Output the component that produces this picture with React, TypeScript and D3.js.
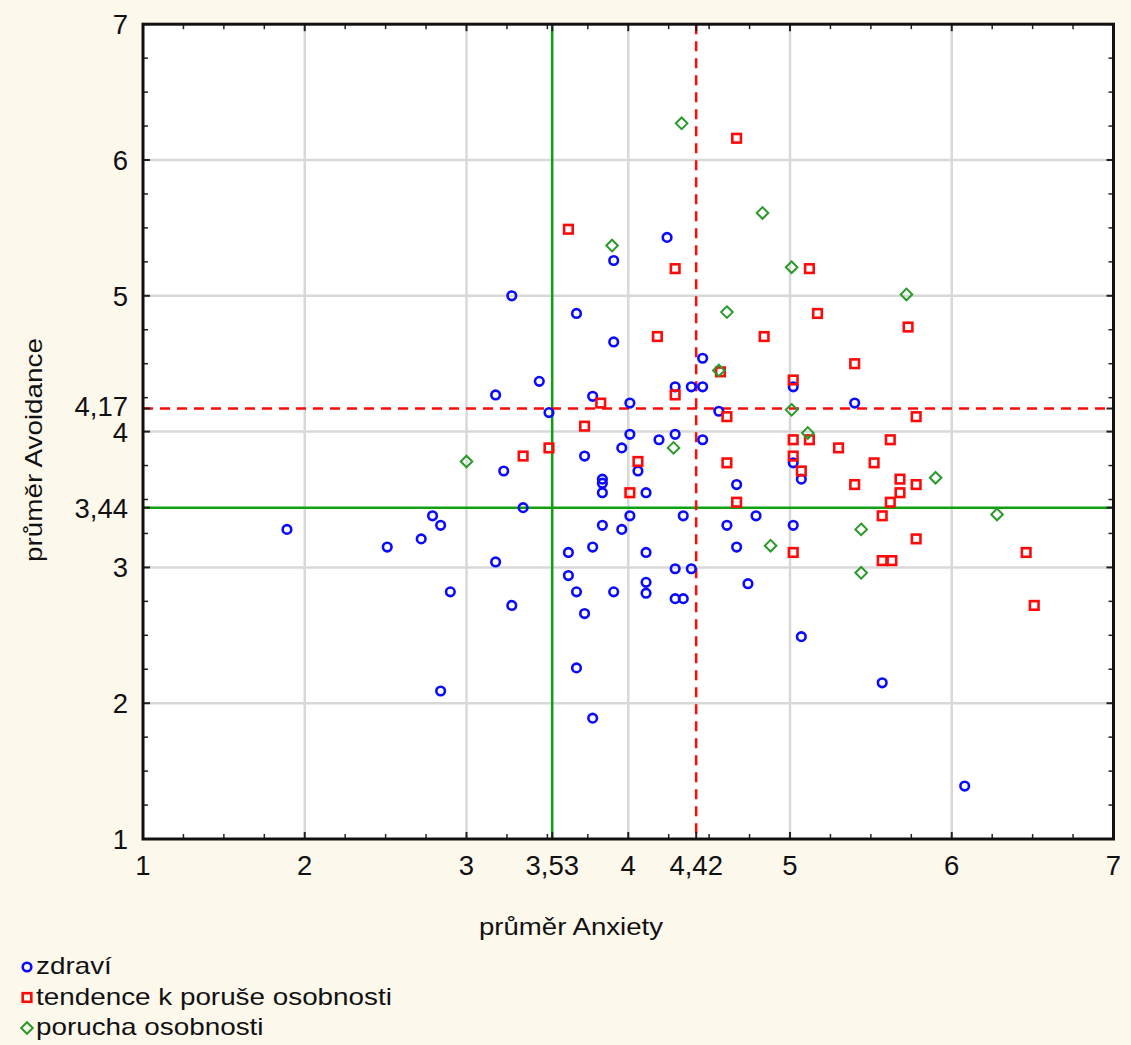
import React from "react";
import * as d3 from "d3";

const zdraviX = [3.91,4.24,3.28,3.68,3.91,3.45,3.18,3.78,3.51,4.01,
  4.46,4.29,4.39,4.46,5.02,4.56,5.40,4.01,4.19,4.29,
  4.46,3.96,3.73,4.06,3.84,3.84,3.84,4.67,4.11,3.23,
  3.35,2.79,2.84,1.89,2.72,2.51,3.18,2.90,3.28,4.01,
  4.34,3.84,3.96,4.61,4.79,3.78,3.63,4.11,4.67,4.29,
  4.39,3.63,4.74,4.11,4.11,3.68,3.91,4.29,4.34,3.73,
  3.68,2.84,3.78,5.07,5.57,6.08,5.02,5.07,5.02];
const zdraviY = [5.26,5.43,5.00,4.87,4.66,4.37,4.27,4.26,4.14,4.21,
  4.54,4.33,4.33,4.33,4.33,4.15,4.21,3.98,3.94,3.98,
  3.94,3.88,3.82,3.71,3.65,3.62,3.55,3.61,3.55,3.71,
  3.44,3.38,3.31,3.28,3.21,3.15,3.04,2.82,2.72,3.38,
  3.38,3.31,3.28,3.31,3.38,3.15,3.11,3.11,3.15,2.99,
  2.99,2.94,2.88,2.89,2.81,2.82,2.82,2.77,2.77,2.66,
  2.26,2.09,1.89,2.49,2.15,1.39,3.77,3.65,3.31];

const tendenceX = [3.63,4.67,4.29,5.12,5.17,4.18,4.84,5.73,5.40,4.57,
  5.02,4.29,3.83,4.61,5.78,3.73,3.51,3.35,4.06,4.61,
  4.01,4.67,5.02,5.12,5.62,5.30,5.02,5.52,5.07,5.68,
  5.40,5.78,5.68,5.62,5.57,5.78,5.02,6.46,5.57,5.63,6.51];
const tendenceY = [5.49,6.16,5.20,5.20,4.87,4.70,4.70,4.77,4.50,4.44,
  4.38,4.27,4.21,4.11,4.11,4.04,3.88,3.82,3.78,3.77,
  3.55,3.48,3.94,3.94,3.94,3.88,3.82,3.77,3.71,3.65,
  3.61,3.61,3.55,3.48,3.38,3.21,3.11,3.11,3.05,3.05,2.72];

const poruchaX = [4.33,4.83,3.90,5.01,5.72,4.61,4.56,5.01,5.11,4.28,3.00,5.90,6.28,5.44,4.88,5.44];
const poruchaY = [6.27,5.61,5.37,5.21,5.01,4.88,4.45,4.16,3.99,3.88,3.78,3.66,3.39,3.28,3.16,2.96];

const xTicks = [1, 2, 3, 3.53, 4, 4.42, 5, 6, 7];
const yTicks = [1, 2, 3, 3.44, 4, 4.17, 5, 6, 7];
const gridVals = [2, 3, 4, 5, 6];

const meanAnxietyAll = 3.53;   // green solid
const meanAnxietyPD = 4.42;    // red dashed
const meanAvoidAll = 3.44;     // green solid
const meanAvoidPD = 4.17;      // red dashed

const legendLabels = ["zdraví", "tendence k poruše osobnosti", "porucha osobnosti"];

const BLUE = "#0a0aff";
const RED = "#ff0a0a";
const GREEN = "#2a9a2a";
const LINE_GREEN = "#10a010";
const FONT = "'Liberation Sans', Arial, sans-serif";

const fmt = (v: number) => (Number.isInteger(v) ? String(v) : String(v).replace(".", ","));

function Circle({ cx, cy }: { cx: number; cy: number }) {
  return <circle cx={cx} cy={cy} r={4.3} fill="none" stroke={BLUE} strokeWidth={2.6} />;
}
function Square({ cx, cy }: { cx: number; cy: number }) {
  return <rect x={cx - 4.3} y={cy - 4.3} width={8.6} height={8.6} fill="none" stroke={RED} strokeWidth={2.6} />;
}
function Diamond({ cx, cy }: { cx: number; cy: number }) {
  const s = 5.8;
  return (
    <path
      d={`M${cx},${cy - s}L${cx + s},${cy}L${cx},${cy + s}L${cx - s},${cy}Z`}
      fill="none"
      stroke={GREEN}
      strokeWidth={2}
    />
  );
}

export default function App() {
  const W = 1131, H = 1045;
  const x = d3.scaleLinear().domain([1, 7]).range([143, 1113.5]);
  const y = d3.scaleLinear().domain([1, 7]).range([839, 24.2]);
  const [x0, x1] = x.range();
  const [y0, y1] = y.range();
  const minor = d3.range(1, 7.0001, 0.25).filter((v) => !Number.isInteger(v));

  return (
    <svg width={W} height={H} style={{ position: "absolute", left: 0, top: 0 }} fontFamily={FONT}>
      <rect x={0} y={0} width={W} height={H} fill="#fdf8ec" />
      <rect x={x0} y={y1} width={x1 - x0} height={y0 - y1} fill="#ffffff" />
      {/* grid */}
      {gridVals.map((v) => (
        <line key={"gx" + v} x1={x(v)} x2={x(v)} y1={y1} y2={y0} stroke="#d8d8d8" strokeWidth={2.5} />
      ))}
      {gridVals.map((v) => (
        <line key={"gy" + v} x1={x0} x2={x1} y1={y(v)} y2={y(v)} stroke="#d8d8d8" strokeWidth={2.5} />
      ))}
      {/* mean lines */}
      <line x1={x(meanAnxietyAll)} x2={x(meanAnxietyAll)} y1={y1} y2={y0} stroke={LINE_GREEN} strokeWidth={2.5} />
      <line x1={x0} x2={x1} y1={y(meanAvoidAll)} y2={y(meanAvoidAll)} stroke={LINE_GREEN} strokeWidth={2.5} />
      <line x1={x(meanAnxietyPD)} x2={x(meanAnxietyPD)} y1={y1} y2={y0} stroke={RED} strokeWidth={2.5} strokeDasharray="10 7" />
      <line x1={x0} x2={x1} y1={y(meanAvoidPD)} y2={y(meanAvoidPD)} stroke={RED} strokeWidth={2.5} strokeDasharray="10 7" />
      {/* points */}
      {zdraviX.map((v, i) => (
        <Circle key={"b" + i} cx={x(v)} cy={y(zdraviY[i])} />
      ))}
      {tendenceX.map((v, i) => (
        <Square key={"r" + i} cx={x(v)} cy={y(tendenceY[i])} />
      ))}
      {poruchaX.map((v, i) => (
        <Diamond key={"g" + i} cx={x(v)} cy={y(poruchaY[i])} />
      ))}
      {/* minor ticks */}
      {minor.map((v) => (
        <g key={"m" + v} stroke="#222" strokeWidth={1.5}>
          <line x1={x(v)} x2={x(v)} y1={y1} y2={y1 + 5} />
          <line x1={x(v)} x2={x(v)} y1={y0} y2={y0 - 5} />
          <line x1={x0} x2={x0 + 5} y1={y(v)} y2={y(v)} />
          <line x1={x1} x2={x1 - 5} y1={y(v)} y2={y(v)} />
        </g>
      ))}
      {xTicks.map((v) => (
        <g key={"xt" + v} stroke="#222" strokeWidth={2}>
          <line x1={x(v)} x2={x(v)} y1={y1} y2={y1 + 7} />
          <line x1={x(v)} x2={x(v)} y1={y0} y2={y0 - 7} />
        </g>
      ))}
      {yTicks.map((v) => (
        <g key={"yt" + v} stroke="#222" strokeWidth={2}>
          <line x1={x0} x2={x0 + 7} y1={y(v)} y2={y(v)} />
          <line x1={x1} x2={x1 - 7} y1={y(v)} y2={y(v)} />
        </g>
      ))}
      {/* frame */}
      <rect x={x0} y={y1} width={x1 - x0} height={y0 - y1} fill="none" stroke="#111" strokeWidth={3} />
      {/* tick labels */}
      {xTicks.map((v) => (
        <text key={"xl" + v} x={x(v)} y={875} textAnchor="middle" fontSize={27.5} fill="#111">
          {fmt(v)}
        </text>
      ))}
      {yTicks.map((v) => (
        <text
          key={"yl" + v}
          x={128}
          y={y(v) + (v === meanAvoidPD ? -2 : 0)}
          dy="0.36em"
          textAnchor="end"
          fontSize={27.5}
          fill="#111"
        >
          {fmt(v)}
        </text>
      ))}
      {/* axis titles */}
      <text transform="translate(571,935) scale(1.15,1)" textAnchor="middle" fontSize={24} fill="#111">
        průměr Anxiety
      </text>
      <text transform="translate(42,450) rotate(-90) scale(1.16,1)" textAnchor="middle" fontSize={24} fill="#111">
        průměr Avoidance
      </text>
      {/* legend */}
      {legendLabels.map((lab, i) => {
        const cy = 967 + i * 30.5;
        return (
          <g key={"lg" + i}>
            {i === 0 && <Circle cx={27} cy={cy} />}
            {i === 1 && <Square cx={27} cy={cy} />}
            {i === 2 && <Diamond cx={27} cy={cy} />}
            <text transform={`translate(36,${cy + 7}) scale(1.16,1)`} fontSize={24} fill="#111">
              {lab}
            </text>
          </g>
        );
      })}
    </svg>
  );
}
